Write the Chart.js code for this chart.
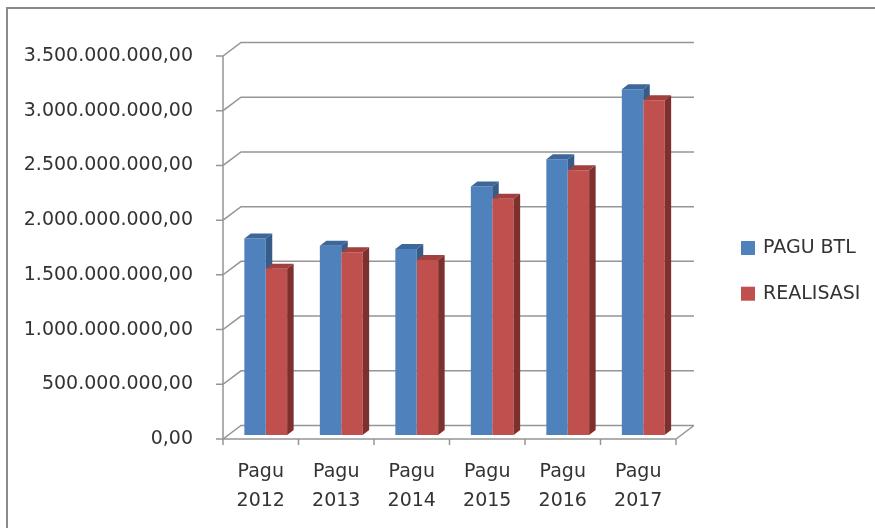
<!DOCTYPE html>
<html>
<head>
<meta charset="utf-8">
<script src="https://cdn.jsdelivr.net/npm/chart.js@4/dist/chart.umd.min.js"></script>
<style>
  html, body { margin: 0; padding: 0; background: #fff; }
  canvas { display: block; }
</style>
</head>
<body>
<canvas id="chart3d" width="875" height="528"></canvas>
<script>
const years = ['2012', '2013', '2014', '2015', '2016', '2017'];
const categories = years.map(y => ['Pagu', y]);
const paguBtl = [1795000000, 1730000000, 1700000000, 2270000000, 2520000000, 3160000000];
const realisasi = [1520000000, 1670000000, 1600000000, 2160000000, 2420000000, 3060000000];
const yTicks = [0, 500000000, 1000000000, 1500000000, 2000000000, 2500000000, 3000000000, 3500000000];

const FONT = 'DejaVu Sans';
const TEXT = '#333333';
const GRID = '#959595';
const BACK = { dx: 18, dy: -13.5 };   // depth of the back wall
const BAR_SHIFT = { dx: 5, dy: -4 };  // bars sit a little behind the front axis
const BAR_DEPTH = { dx: 6.5, dy: -5 };

const faceColors = [
  { front: '#4f81bd', top: '#3d6799', side: '#375c8a' },
  { front: '#c0504d', top: '#a1403d', side: '#7d302e' }
];

function formatRp(v) {
  return Math.round(v).toString().replace(/\B(?=(\d{3})+(?!\d))/g, '.') + ',00';
}

const frame3d = {
  id: 'frame3d',
  beforeDraw(chart) {
    const ctx = chart.ctx;
    ctx.save();
    ctx.strokeStyle = '#8a8a8a';
    ctx.lineWidth = 2;
    ctx.beginPath();
    ctx.moveTo(7, chart.height);
    ctx.lineTo(7, 8);
    ctx.lineTo(chart.width, 8);
    ctx.stroke();
    ctx.restore();
  },
  beforeDatasetsDraw(chart) {
    const { ctx, chartArea: a, scales: { x, y } } = chart;
    ctx.save();
    ctx.strokeStyle = GRID;
    ctx.lineWidth = 1.5;
    ctx.beginPath();
    yTicks.forEach(v => {
      const py = y.getPixelForValue(v);
      ctx.moveTo(a.left - 7, py);
      ctx.lineTo(a.left, py);
      ctx.lineTo(a.left + BACK.dx, py + BACK.dy);
      ctx.lineTo(a.right + BACK.dx, py + BACK.dy);
    });
    // front axis lines
    ctx.moveTo(a.left, y.getPixelForValue(yTicks[yTicks.length - 1]));
    ctx.lineTo(a.left, a.bottom + 6);
    ctx.moveTo(a.left, a.bottom);
    ctx.lineTo(a.right, a.bottom);
    ctx.lineTo(a.right + BACK.dx, a.bottom + BACK.dy);
    // category boundary ticks
    for (let i = 1; i <= categories.length; i++) {
      const px = a.left + (a.right - a.left) * i / categories.length;
      ctx.moveTo(px, a.bottom);
      ctx.lineTo(px, a.bottom + 6);
    }
    ctx.stroke();
    ctx.restore();

    ctx.save();
    ctx.translate(BAR_SHIFT.dx, BAR_SHIFT.dy);
  },
  afterDatasetsDraw(chart) {
    const ctx = chart.ctx;
    const metas = chart.data.datasets.map((d, i) => chart.getDatasetMeta(i));
    categories.forEach((c, j) => {
      metas.forEach((meta, i) => {
        const bar = meta.data[j];
        if (!bar) return;
        const { x, y, base, width } = bar.getProps(['x', 'y', 'base', 'width'], true);
        const l = x - width / 2, r = x + width / 2;
        const col = faceColors[i];
        // top face
        ctx.fillStyle = col.top;
        ctx.beginPath();
        ctx.moveTo(l, y);
        ctx.lineTo(r, y);
        ctx.lineTo(r + BAR_DEPTH.dx, y + BAR_DEPTH.dy);
        ctx.lineTo(l + BAR_DEPTH.dx, y + BAR_DEPTH.dy);
        ctx.closePath();
        ctx.fill();
        // side face, hidden below the next bar of the group
        ctx.save();
        const next = metas[i + 1] && metas[i + 1].data[j];
        if (next) {
          ctx.beginPath();
          ctx.rect(0, 0, chart.width, next.y);
          ctx.clip();
        }
        ctx.fillStyle = col.side;
        ctx.beginPath();
        ctx.moveTo(r, y);
        ctx.lineTo(r + BAR_DEPTH.dx, y + BAR_DEPTH.dy);
        ctx.lineTo(r + BAR_DEPTH.dx, base + BAR_DEPTH.dy);
        ctx.lineTo(r, base);
        ctx.closePath();
        ctx.fill();
        ctx.restore();
      });
    });
    ctx.restore();
  },
  afterDraw(chart) {
    const ctx = chart.ctx;
    ctx.save();
    ctx.font = '19px "' + FONT + '"';
    ctx.textBaseline = 'middle';
    ctx.textAlign = 'left';
    chart.data.datasets.forEach((ds, i) => {
      const top = 241 + i * 45.7;
      ctx.fillStyle = ds.backgroundColor;
      ctx.fillRect(741, top, 14, 14);
      ctx.fillStyle = TEXT;
      ctx.fillText(ds.label, 763, top + 7.5);
    });
    ctx.restore();
  }
};

new Chart(document.getElementById('chart3d'), {
  type: 'bar',
  data: {
    labels: categories,
    datasets: [
      { label: 'PAGU BTL', data: paguBtl, backgroundColor: faceColors[0].front, clip: false },
      { label: 'REALISASI', data: realisasi, backgroundColor: faceColors[1].front, clip: false }
    ]
  },
  options: {
    responsive: false,
    animation: false,
    devicePixelRatio: 1,
    layout: { padding: { top: 56, right: 199, bottom: 0, left: 0 } },
    datasets: { bar: { categoryPercentage: 0.567, barPercentage: 1 } },
    plugins: { legend: { display: false }, tooltip: { enabled: false } },
    scales: {
      x: {
        grid: { display: false },
        border: { display: false },
        ticks: {
          autoSkip: false, maxRotation: 0, padding: 11, color: TEXT,
          font: { family: FONT, size: 19, lineHeight: 1.5 }
        },
        afterFit(scale) { scale.height = 89; }
      },
      y: {
        min: 0,
        max: 3500000000,
        grid: { display: false },
        border: { display: false },
        afterBuildTicks(scale) { scale.ticks = yTicks.map(v => ({ value: v })); },
        ticks: {
          padding: 22, color: TEXT,
          font: { family: FONT, size: 19 },
          callback: v => formatRp(v)
        },
        afterFit(scale) { scale.width = 223; }
      }
    }
  },
  plugins: [frame3d]
});
</script>
</body>
</html>
